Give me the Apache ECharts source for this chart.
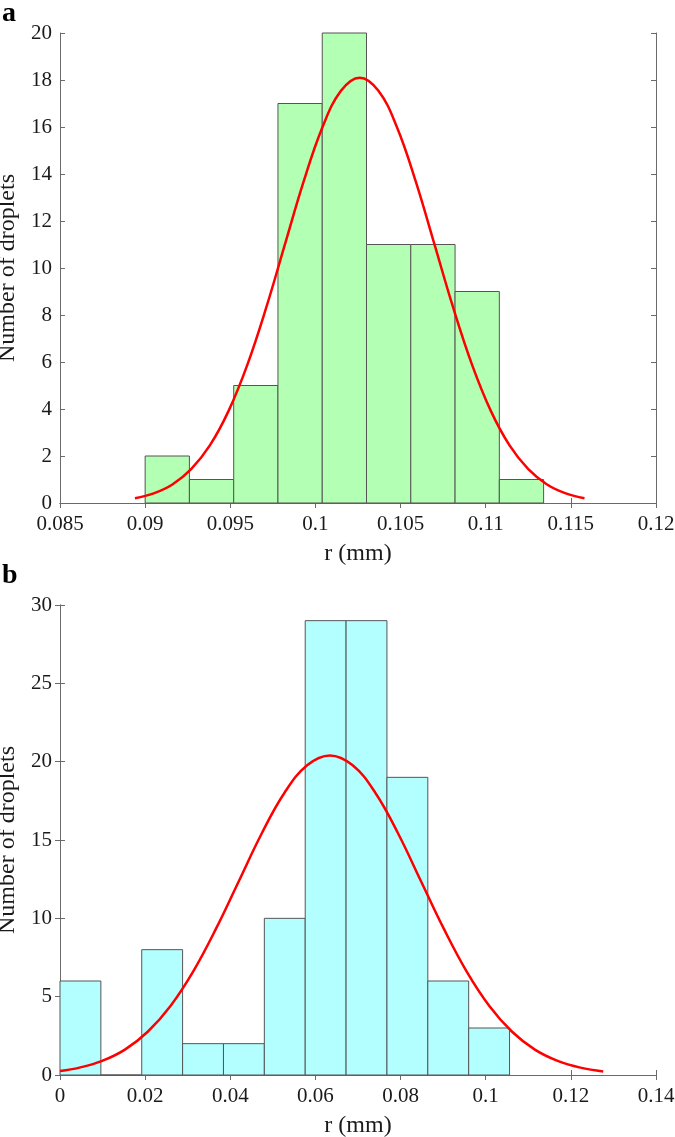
<!DOCTYPE html>
<html>
<head>
<meta charset="utf-8">
<script src="https://cdn.jsdelivr.net/npm/echarts@6/dist/echarts.min.js"></script>
<style>
html,body{margin:0;padding:0;background:#fff;}
#chart{width:675px;height:1137px;}
</style>
</head>
<body>
<div id="chart"></div>
<script>
// ---- Panel a data ----
var binEdgesA = [0.0900, 0.0926, 0.0952, 0.0978, 0.1004, 0.1030, 0.1056, 0.1082, 0.1108, 0.1134];
var countsA = [2, 1, 5, 17, 20, 11, 11, 9, 1];
var fitXA = [0.0894, 0.0905, 0.0916, 0.0927, 0.0938, 0.0949, 0.0960, 0.0971, 0.0982, 0.0993, 0.1004, 0.1015, 0.1026,
             0.1037, 0.1048, 0.1059, 0.1070, 0.1081, 0.1092, 0.1103, 0.1114, 0.1125, 0.1136, 0.1147, 0.1158];
var fitYA = [0.20, 0.41, 0.79, 1.44, 2.45, 3.92, 5.88, 8.29, 10.98, 13.66, 15.97, 17.54, 18.10,
             17.54, 15.97, 13.66, 10.98, 8.29, 5.88, 3.92, 2.45, 1.44, 0.79, 0.41, 0.20];

// ---- Panel b data ----
var binEdgesB = [0, 0.0096, 0.0192, 0.0288, 0.0384, 0.0480, 0.0576, 0.0672, 0.0768, 0.0864, 0.0960, 0.1056];
var countsB = [6, 0, 8, 2, 2, 10, 29, 29, 19, 6, 3];
var fitXB = [0, 0.00455, 0.0099, 0.01525, 0.0206, 0.02595, 0.0313, 0.03665, 0.0420, 0.04735, 0.0527, 0.05805, 0.0634,
             0.06875, 0.0741, 0.07945, 0.0848, 0.09015, 0.0955, 0.10085, 0.1062, 0.11155, 0.1169, 0.12225, 0.1276];
var fitYB = [0.25, 0.47, 0.90, 1.62, 2.76, 4.41, 6.62, 9.34, 12.37, 15.40, 18.00, 19.77, 20.40,
             19.77, 18.00, 15.40, 12.37, 9.34, 6.62, 4.41, 2.76, 1.62, 0.90, 0.47, 0.23];

var xTicksA = {min: 0.085, max: 0.12, interval: 0.005};
var yTicksA = {min: 0, max: 20, interval: 2};
var xTicksB = {min: 0, max: 0.14, interval: 0.02};
var yTicksB = {min: 0, max: 30, interval: 5};

var FONT = 'Liberation Serif';
var AXC = '#6a6a6a';
var TXT = '#1a1a1a';

function histData(edges, counts) {
  return counts.map(function (c, i) { return [edges[i], edges[i + 1], c]; });
}
function pairs(xs, ys) { return xs.map(function (x, i) { return [x, ys[i]]; }); }

function makeRender(fill) {
  return function (params, api) {
    var x0 = api.value(0), x1 = api.value(1), y = api.value(2);
    var pTop = api.coord([x0, y]);
    var pBot = api.coord([x1, 0]);
    return {
      type: 'rect',
      shape: {x: pTop[0], y: pTop[1], width: pBot[0] - pTop[0], height: pBot[1] - pTop[1]},
      style: {fill: fill, stroke: '#555', lineWidth: 1}
    };
  };
}

var tickRich = {t: {fontFamily: FONT, fontSize: 21, color: TXT, lineHeight: 22}};
function fmt(v) { return '{t|' + String(+(+v).toFixed(4)) + '}'; }

function xAxisMain(gi, t) {
  return {
    type: 'value', gridIndex: gi, position: 'bottom', min: t.min, max: t.max, interval: t.interval,
    name: 'r (mm)', nameLocation: 'middle', nameGap: 39,
    nameTextStyle: {fontFamily: FONT, fontSize: 24, color: TXT},
    axisLine: {show: true, lineStyle: {color: AXC, width: 1}},
    axisTick: {show: true, inside: true, length: 5, lineStyle: {color: AXC}},
    axisLabel: {margin: 10, fontFamily: FONT, fontSize: 21, color: TXT, formatter: fmt, rich: tickRich},
    splitLine: {show: false}
  };
}
function xAxisTop(gi, t) {
  return {
    type: 'value', gridIndex: gi, position: 'top', min: t.min, max: t.max, interval: t.interval,
    axisLine: {show: true, lineStyle: {color: AXC, width: 1}},
    axisTick: {show: true, inside: true, length: 5, lineStyle: {color: AXC}},
    axisLabel: {show: false}, splitLine: {show: false}
  };
}
function yAxisMain(gi, t) {
  return {
    type: 'value', gridIndex: gi, position: 'left', min: t.min, max: t.max, interval: t.interval,
    name: 'Number of droplets', nameLocation: 'middle', nameGap: 31,
    nameTextStyle: {fontFamily: FONT, fontSize: 24, color: TXT},
    axisLine: {show: true, lineStyle: {color: AXC, width: 1}},
    axisTick: {show: true, inside: true, length: 5, lineStyle: {color: AXC}},
    axisLabel: {margin: 8, fontFamily: FONT, fontSize: 21, color: TXT, formatter: fmt, rich: tickRich},
    splitLine: {show: false}
  };
}
function yAxisRight(gi, t) {
  return {
    type: 'value', gridIndex: gi, position: 'right', min: t.min, max: t.max, interval: t.interval,
    axisLine: {show: true, lineStyle: {color: AXC, width: 1}},
    axisTick: {show: true, inside: true, length: 5, lineStyle: {color: AXC}},
    axisLabel: {show: false}, splitLine: {show: false}
  };
}

var chart = echarts.init(document.getElementById('chart'), null, {renderer: 'canvas'});
chart.setOption({
  animation: false,
  backgroundColor: '#fff',
  textStyle: {fontFamily: FONT},
  grid: [
    {left: 60, top: 33, width: 596, height: 470, containLabel: false, outerBoundsMode: 'none'},
    {left: 60, top: 605, width: 596, height: 470, containLabel: false, outerBoundsMode: 'none'}
  ],
  xAxis: [xAxisMain(0, xTicksA), xAxisTop(0, xTicksA), xAxisMain(1, xTicksB), xAxisTop(1, xTicksB)],
  yAxis: [yAxisMain(0, yTicksA), yAxisRight(0, yTicksA), yAxisMain(1, yTicksB), yAxisRight(1, yTicksB)],
  graphic: [
    {type: 'text', left: 2, top: 0, style: {text: 'a', font: 'bold 28px "Liberation Serif"', fill: '#000'}},
    {type: 'text', left: 2, top: 562, style: {text: 'b', font: 'bold 28px "Liberation Serif"', fill: '#000'}}
  ],
  series: [
    {type: 'custom', xAxisIndex: 0, yAxisIndex: 0, renderItem: makeRender('#b3ffb3'),
     encode: {x: [0, 1], y: 2}, data: histData(binEdgesA, countsA), z: 2},
    {type: 'line', xAxisIndex: 0, yAxisIndex: 0, data: pairs(fitXA, fitYA), smooth: 0.4,
     showSymbol: false, lineStyle: {color: '#ff0000', width: 2.5}, z: 3},
    {type: 'custom', xAxisIndex: 2, yAxisIndex: 2, renderItem: makeRender('#b3ffff'),
     encode: {x: [0, 1], y: 2}, data: histData(binEdgesB, countsB), z: 2},
    {type: 'line', xAxisIndex: 2, yAxisIndex: 2, data: pairs(fitXB, fitYB), smooth: 0.4,
     showSymbol: false, lineStyle: {color: '#ff0000', width: 2.5}, z: 3}
  ]
});
</script>
</body>
</html>
